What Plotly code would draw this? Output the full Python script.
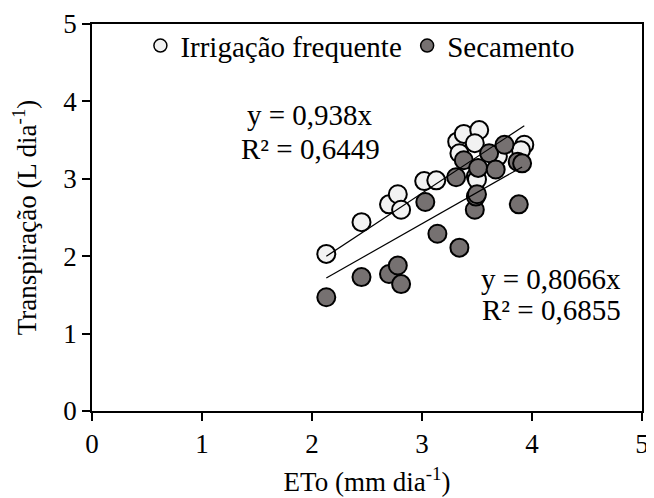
import plotly.graph_objects as go

# Irrigação frequente
irr_x = [2.13, 2.45, 2.70, 2.78, 2.81, 3.02, 3.13, 3.32, 3.38, 3.52, 3.48, 3.34, 3.49, 3.50, 3.69, 3.93, 3.90]
irr_y = [2.03, 2.44, 2.67, 2.80, 2.60, 2.97, 2.98, 3.48, 3.58, 3.63, 3.46, 3.33, 3.03, 2.99, 3.29, 3.44, 3.37]
# Secamento
sec_x = [2.13, 2.45, 2.70, 2.78, 2.81, 3.03, 3.14, 3.34, 3.31, 3.38, 3.48, 3.49, 3.50, 3.51, 3.61, 3.67, 3.75, 3.87, 3.91, 3.88]
sec_y = [1.47, 1.73, 1.77, 1.88, 1.64, 2.70, 2.29, 2.11, 3.02, 3.24, 2.60, 2.77, 2.80, 3.14, 3.33, 3.12, 3.44, 3.22, 3.20, 2.67]

irr_slope = 0.938
sec_slope = 0.8066
irr_eq = ["y = 0,938x", "R² = 0,6449"]
sec_eq = ["y = 0,8066x", "R² = 0,6855"]

tick_vals = [0, 1, 2, 3, 4, 5]

FONT = "Liberation Serif, Times New Roman, serif"
OPEN_FILL = "#f2f2f2"
DARK_FILL = "#767171"

fig = go.Figure()

# data markers
fig.add_trace(go.Scatter(x=irr_x, y=irr_y, mode="markers", showlegend=False,
                         marker=dict(size=18, color=OPEN_FILL, line=dict(color="black", width=2))))
fig.add_trace(go.Scatter(x=sec_x, y=sec_y, mode="markers", showlegend=False,
                         marker=dict(size=18, color=DARK_FILL, line=dict(color="black", width=2))))

# trendlines (through origin)
for xs, m in ((irr_x, irr_slope), (sec_x, sec_slope)):
    x0, x1 = min(xs), max(xs)
    fig.add_trace(go.Scatter(x=[x0, x1], y=[m * x0, m * x1], mode="lines", showlegend=False,
                             line=dict(color="black", width=1.2), hoverinfo="skip"))

# legend entries
fig.add_trace(go.Scatter(x=[None], y=[None], mode="markers", name="Irrigação frequente", legend="legend",
                         marker=dict(size=13, color=OPEN_FILL, line=dict(color="black", width=1.5))))
fig.add_trace(go.Scatter(x=[None], y=[None], mode="markers", name="Secamento", legend="legend2",
                         marker=dict(size=13, color=DARK_FILL, line=dict(color="black", width=1.5))))

# equations
for i, t in enumerate(irr_eq):
    fig.add_annotation(x=0.397, y=[0.764, 0.677][i], xref="paper", yref="paper", text=t,
                       xanchor="center", yanchor="middle",
                       showarrow=False, font=dict(family=FONT, size=29, color="black"))
for i, t in enumerate(sec_eq):
    fig.add_annotation(x=0.835, y=[0.341, 0.262][i], xref="paper", yref="paper", text=t,
                       xanchor="center", yanchor="middle",
                       showarrow=False, font=dict(family=FONT, size=29, color="black"))

axis_common = dict(range=[0, 5], tickvals=tick_vals, showgrid=False, zeroline=False,
                   showline=True, linecolor="black", linewidth=1.5, mirror=True,
                   ticks="outside", ticklen=8, tickwidth=1.5, tickcolor="black",
                   automargin=False,
                   tickfont=dict(family=FONT, size=27, color="black"))

legend_common = dict(orientation="h", yanchor="middle", xanchor="left",
                     bgcolor="rgba(0,0,0,0)", font=dict(family=FONT, size=29, color="black"))

# page body has an 8px margin, so the figure is 8px smaller on each axis
fig.update_layout(
    width=646, height=490,
    margin=dict(l=84, r=12, t=13, b=87),
    paper_bgcolor="white", plot_bgcolor="white",
    font=dict(family=FONT, size=27, color="black"),
    xaxis=dict(axis_common, title=dict(text="ETo (mm dia<sup>-1</sup>)", font=dict(family=FONT, size=27), standoff=14)),
    yaxis=dict(axis_common, title=dict(text="Transpiração (L dia<sup>-1</sup>)", font=dict(family=FONT, size=27), standoff=24)),
    legend=dict(legend_common, x=0.088, y=0.944),
    legend2=dict(legend_common, x=0.573, y=0.944),
    showlegend=True,
)

fig.write_html("out.html")
